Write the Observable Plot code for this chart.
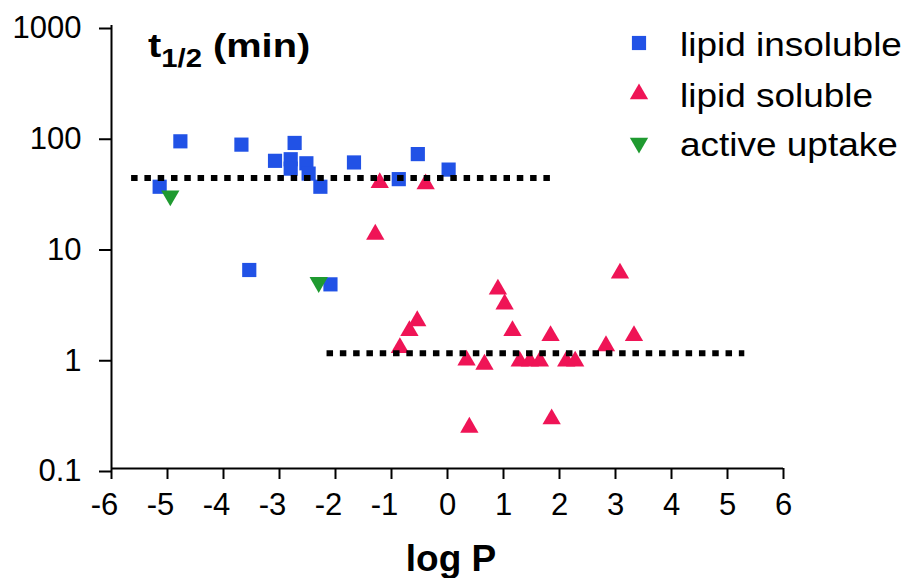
<!DOCTYPE html>
<html>
<head>
<meta charset="utf-8">
<script src="https://cdn.jsdelivr.net/npm/d3@7"></script>
<script src="https://cdn.jsdelivr.net/npm/@observablehq/plot@0.6"></script>
<style>
  html, body { margin: 0; padding: 0; background: #fff; }
  #wrap { position: relative; width: 912px; height: 578px; font-family: "Liberation Sans", Arial, Helvetica, sans-serif; color: #000; }
  #title { position: absolute; left: 148px; top: 28px; font-size: 34px; font-weight: bold; line-height: 1; white-space: nowrap; transform: scaleX(1.17); transform-origin: left center; }
  #title .sub { font-size: 25px; position: relative; top: 10px; }
  #xlabel { position: absolute; left: 451px; top: 540px; font-size: 37px; font-weight: bold; line-height: 1; transform: translateX(-50%); white-space: nowrap; }
  #legend { position: absolute; left: 620px; top: 0; }
  .legrow { position: absolute; left: 0; white-space: nowrap; height: 40px; }
  .legrow svg { position: absolute; left: 0; top: 0; overflow: visible; }
  .legrow span { position: absolute; left: 60px; font-size: 33px; line-height: 1; transform: scaleX(1.12); transform-origin: left center; }
</style>
</head>
<body>
<div id="wrap"></div>
<script>
// ---- data ----
const categories = ["lipid insoluble", "lipid soluble", "active uptake"];

const insolubleLogP = [-5.14, -4.77, -3.68, -3.54, -3.08, -2.80, -2.80, -2.73, -2.52, -2.48, -2.27, -2.09, -1.67, -0.87, -0.53, 0.02];
const insolubleT    = [35, 90, 84, 6.2, 60, 62, 51, 87, 57, 46, 35, 4.6, 58, 41, 69, 50];

const solubleLogP = [-1.21, -1.29, -0.85, -0.68, -0.54, -0.39, 0.34, 0.39, 0.66, 0.90, 1.02, 1.16, 1.29, 1.47, 1.65, 1.84, 1.86, 2.12, 2.28, 2.83, 3.08, 3.33];
const solubleT    = [38, 13, 1.23, 1.75, 2.15, 37, 0.95, 0.235, 0.87, 4.15, 3.05, 1.75, 0.93, 0.93, 0.93, 1.58, 0.28, 0.93, 0.93, 1.28, 5.8, 1.58];

const activeLogP = [-4.95, -2.30];
const activeT    = [29, 4.8];

// mean half-life lines (dotted)
const insolubleMeanLogP = [-5.65, 1.83];
const insolubleMeanT = 42;
const solubleMeanLogP = [-2.16, 5.3];
const solubleMeanT = 1.1;

const xTicks = [-6, -5, -4, -3, -2, -1, 0, 1, 2, 3, 4, 5, 6];
const yTicks = [0.1, 1, 10, 100, 1000];

// ---- styles ----
const colors = {"lipid insoluble": "#2152e6", "lipid soluble": "#ef1456", "active uptake": "#1f9a30"};
const symbols = {"lipid insoluble": "square", "lipid soluble": "triangle", "active uptake": "triangle"};
const radii = {"lipid insoluble": 8, "lipid soluble": 6.8, "active uptake": 6.8};
const rotations = {"lipid insoluble": 0, "lipid soluble": 0, "active uptake": 180};

const toRows = (xs, ys) => xs.map((x, i) => ({logP: x, t: ys[i]}));
const insoluble = toRows(insolubleLogP, insolubleT);
const soluble = toRows(solubleLogP, solubleT);
const active = toRows(activeLogP, activeT);
const insolubleMean = insolubleMeanLogP.map(x => ({logP: x, t: insolubleMeanT}));
const solubleMean = solubleMeanLogP.map(x => ({logP: x, t: solubleMeanT}));

const fmt = d => String(d);
const dotted = {x: "logP", y: "t", stroke: "#000", strokeWidth: 6, strokeDasharray: "6.5 6.8", strokeLinecap: "butt"};

const chart = Plot.plot({
  width: 912,
  height: 578,
  marginLeft: 111,
  marginRight: 129,
  marginTop: 25,
  marginBottom: 110,
  style: {fontFamily: "'Liberation Sans', Arial, Helvetica, sans-serif", background: "#fff", color: "#000", overflow: "visible"},
  x: {domain: [-6, 6]},
  y: {type: "log", domain: [0.1, 1000]},
  marks: [
    // tick lines
    Plot.axisX({ticks: xTicks, tickSize: 11, strokeWidth: 2, tickFormat: () => "", label: null}),
    // tick labels: negatives shifted so the digit sits under the tick
    Plot.axisX({ticks: xTicks.filter(d => d < 0), tickSize: 0, tickPadding: 24, fontSize: 31, dx: -7, tickFormat: fmt, label: null}),
    Plot.axisX({ticks: xTicks.filter(d => d >= 0), tickSize: 0, tickPadding: 24, fontSize: 31, tickFormat: fmt, label: null}),
    Plot.axisY({ticks: yTicks, tickSize: 12, strokeWidth: 2, tickPadding: 18, fontSize: 31, dy: 3, tickFormat: fmt, label: null}),
    Plot.ruleX([-6], {strokeWidth: 2}),
    Plot.ruleY([0.1], {strokeWidth: 2}),
    Plot.dot(insoluble, {x: "logP", y: "t", symbol: symbols[categories[0]], r: radii[categories[0]], fill: colors[categories[0]], stroke: "none"}),
    Plot.dot(soluble, {x: "logP", y: "t", symbol: symbols[categories[1]], r: radii[categories[1]], fill: colors[categories[1]], stroke: "none"}),
    Plot.dot(active, {x: "logP", y: "t", symbol: symbols[categories[2]], r: radii[categories[2]], rotate: rotations[categories[2]], fill: colors[categories[2]], stroke: "none"}),
    Plot.line(insolubleMean, dotted),
    Plot.line(solubleMean, dotted)
  ]
});

const wrap = document.getElementById("wrap");
wrap.appendChild(chart);

// title
const title = document.createElement("div");
title.id = "title";
title.innerHTML = 't<span class="sub">1/2</span> (min)';
wrap.appendChild(title);

// x label
const xl = document.createElement("div");
xl.id = "xlabel";
xl.textContent = "log P";
wrap.appendChild(xl);

// legend
const legend = document.createElement("div");
legend.id = "legend";
const rowTops = [23, 74, 123];
categories.forEach((c, i) => {
  const row = document.createElement("div");
  row.className = "legrow";
  row.style.top = rowTops[i] + "px";
  const r = radii[c];
  const symType = symbols[c] === "square" ? d3.symbolSquare : d3.symbolTriangle;
  const path = d3.symbol(symType, Math.PI * r * r)();
  row.innerHTML = `<svg width="40" height="40"><path d="${path}" fill="${colors[c]}" transform="translate(19,20) rotate(${rotations[c]})"></path></svg><span style="top:5px">${c}</span>`;
  legend.appendChild(row);
});
wrap.appendChild(legend);
</script>
</body>
</html>
